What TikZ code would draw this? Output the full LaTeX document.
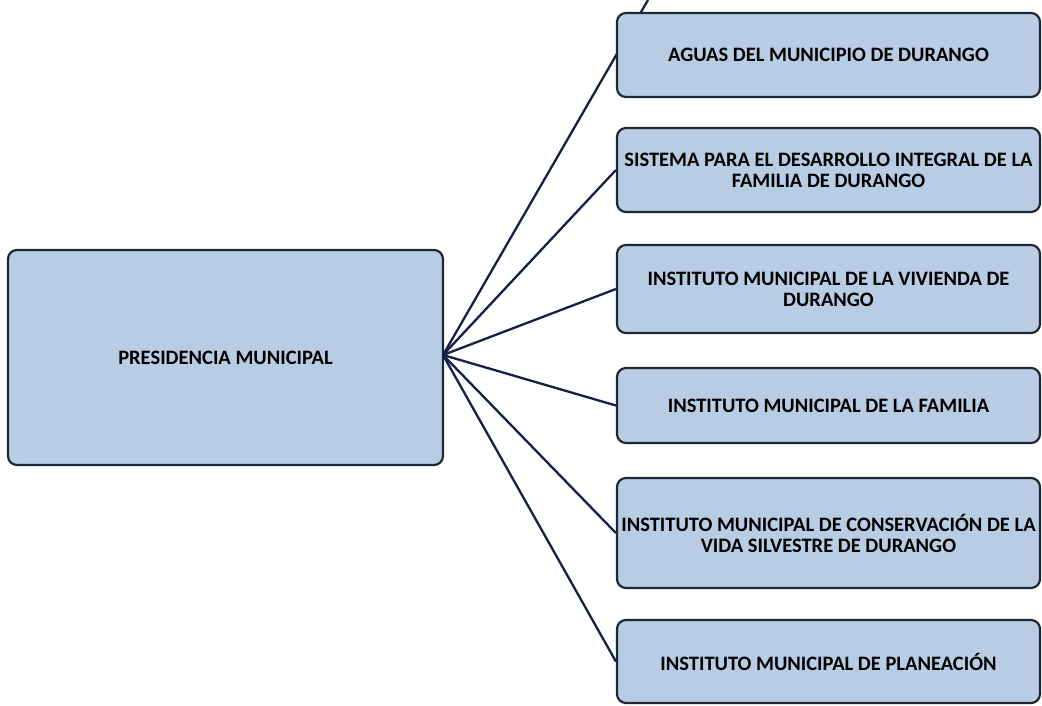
\documentclass[tikz,border=0pt]{standalone}
\usepackage{fontspec}
\setmainfont{Carlito}
\definecolor{boxfill}{RGB}{184,204,228}
\definecolor{boxline}{RGB}{28,40,52}
\definecolor{linkcol}{RGB}{22,32,70}
\tikzset{
  unit/.style={rounded corners=9pt, draw=boxline, line width=2.2pt, fill=boxfill, font=\bfseries\fontsize{20.5}{21}\selectfont, align=center, inner sep=0pt},
  link/.style={draw=linkcol, line width=2.3pt},
}
\begin{document}
\begin{tikzpicture}[x=1pt,y=-1pt]
\useasboundingbox (0,0) rectangle (1042,706);
\fill[white] (0,0) rectangle (1042,706);
\coordinate (top) at (648,0);
\coordinate (hub) at (443,355);
\draw[link] (hub) -- (top);
\node[unit, minimum width=435pt, minimum height=215pt] (pres) at (225.5,357.5) {PRESIDENCIA MUNICIPAL};
\node[unit, minimum width=423pt, minimum height=84pt] (b1) at (828.5,55) {AGUAS DEL MUNICIPIO DE DURANGO};
\node[unit, minimum width=423pt, minimum height=84pt] (b2) at (828.5,170) {SISTEMA PARA EL DESARROLLO INTEGRAL DE LA\\FAMILIA DE DURANGO};
\node[unit, minimum width=423pt, minimum height=88pt] (b3) at (828.5,289) {INSTITUTO MUNICIPAL DE LA VIVIENDA DE\\DURANGO};
\node[unit, minimum width=423pt, minimum height=75pt] (b4) at (828.5,405.5) {INSTITUTO MUNICIPAL DE LA FAMILIA};
\node[unit, minimum width=423pt, minimum height=110pt] (b5) at (828.5,533) {INSTITUTO MUNICIPAL DE CONSERVACIÓN DE LA\\VIDA SILVESTRE DE DURANGO};
\node[unit, minimum width=423pt, minimum height=83pt] (b6) at (828.5,661.5) {INSTITUTO MUNICIPAL DE PLANEACIÓN};
\draw[link] (hub) -- (b2.west);
\draw[link] (hub) -- (b3.west);
\draw[link] (hub) -- (b4.west);
\draw[link] (hub) -- (b5.west);
\draw[link] (hub) -- (b6.west);
\end{tikzpicture}
\end{document}
